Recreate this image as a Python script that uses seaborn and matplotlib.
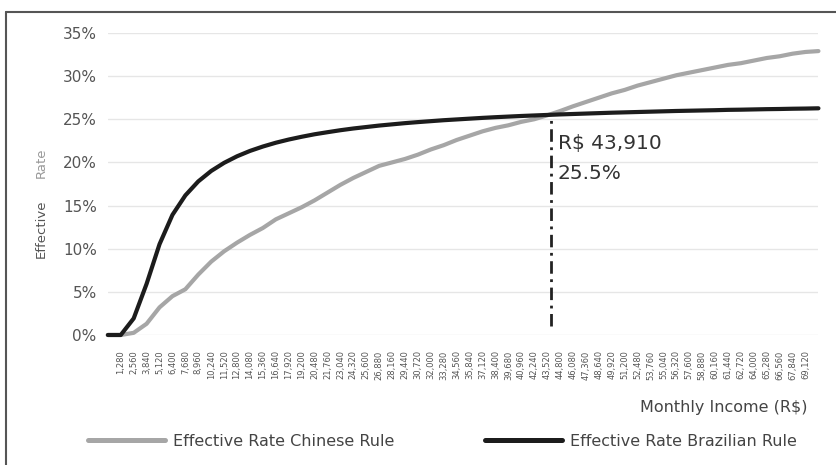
import pandas as pd
import matplotlib
matplotlib.use("Agg")
import matplotlib.pyplot as plt
import seaborn as sns
from matplotlib.lines import Line2D

# monthly income (R$) sampled every 1,280
income = [1280 * k for k in range(56)]

rate_chinese = [0.0, 0.0, 0.25, 1.3, 3.2, 4.5, 5.3, 7.0, 8.5, 9.7, 10.7, 11.6, 12.4, 13.4,
                14.1, 14.8, 15.6, 16.5, 17.4, 18.2, 18.9, 19.6, 20.0, 20.4, 20.9, 21.5,
                22.0, 22.6, 23.1, 23.6, 24.0, 24.3, 24.7, 25.0, 25.45, 25.95, 26.5, 27.0,
                27.5, 28.0, 28.4, 28.9, 29.3, 29.7, 30.1, 30.4, 30.7, 31.0, 31.3, 31.5,
                31.8, 32.1, 32.3, 32.6, 32.8, 32.9]

rate_brazilian = [0.0, 0.0, 1.92, 5.93, 10.52, 13.92, 16.18, 17.80, 19.01, 19.95, 20.71,
                  21.33, 21.84, 22.28, 22.65, 22.97, 23.26, 23.50, 23.73, 23.93, 24.10,
                  24.27, 24.41, 24.55, 24.67, 24.78, 24.89, 24.98, 25.07, 25.16, 25.24,
                  25.31, 25.38, 25.44, 25.50, 25.56, 25.61, 25.66, 25.71, 25.76, 25.80,
                  25.84, 25.88, 25.92, 25.96, 25.99, 26.02, 26.05, 26.09, 26.11, 26.14,
                  26.17, 26.19, 26.22, 26.24, 26.27]

tick_income = income[1:55]
y_ticks = [0, 5, 10, 15, 20, 25, 30, 35]

cross_income = 43910
cross_rate = 25.5
vline_bottom = 1.0

series_names = ["Effective Rate Chinese Rule", "Effective Rate Brazilian Rule"]
colors = {series_names[0]: "#a6a6a6", series_names[1]: "#1c1c1c"}

df = pd.DataFrame({"income": income,
                   series_names[0]: rate_chinese,
                   series_names[1]: rate_brazilian})
df = df.melt(id_vars="income", var_name="series", value_name="rate")

sns.set_theme(style="whitegrid")
plt.rcParams["font.family"] = ["DejaVu Sans"]

fig = plt.figure(figsize=(8.36, 4.65), dpi=100)
ax = fig.add_axes([0.129, 0.2796, 0.850, 0.6495])

sns.lineplot(data=df, x="income", y="rate", hue="series", hue_order=series_names,
             palette=colors, linewidth=3, legend=False, ax=ax,
             solid_capstyle="round", clip_on=False)

# crossing marker
ax.plot([cross_income, cross_income], [vline_bottom, cross_rate], color="#222222",
        linewidth=2, dashes=(4.5, 2, 1, 2))
ax.text(cross_income + 650, cross_rate - 3.3, f"R$ {cross_income:,}", fontsize=14.5,
        color="#333333", ha="left", va="center")
ax.text(cross_income + 650, cross_rate - 6.8, f"{cross_rate}%", fontsize=14.5,
        color="#333333", ha="left", va="center")

ax.set_xlim(0, 70400)
ax.set_ylim(0, 35)
ax.set_xticks(tick_income)
ax.set_xticklabels([f"{v:,}" for v in tick_income], rotation=90, fontsize=6,
                   color="#555555")
ax.set_yticks(y_ticks)
ax.set_yticklabels([f"{v}%" for v in y_ticks], fontsize=11, color="#555555")
ax.tick_params(axis="x", length=0, pad=11)
ax.tick_params(axis="y", length=0, pad=8)
ax.grid(axis="x", visible=False)
ax.grid(axis="y", color="#e6e6e6", linewidth=1)
for s in ax.spines.values():
    s.set_visible(False)
ax.set_xlabel("")
ax.set_ylabel("")

fig.text(808 / 836, 1 - 407 / 465, "Monthly Income (R$)", fontsize=11.5, color="#444444",
         ha="right", va="center")
fig.text(41 / 836, 1 - 229 / 465, "Effective", rotation=90, fontsize=9.5,
         color="#555555", ha="center", va="center")
fig.text(41 / 836, 1 - 163 / 465, "Rate", rotation=90, fontsize=9.5,
         color="#999999", ha="center", va="center")

handles = [Line2D([0], [0], color=colors[n], linewidth=3.6) for n in series_names]
leg = fig.legend(handles, series_names, loc="center", bbox_to_anchor=(0.529, 0.0516),
                 ncol=2, frameon=False, handlelength=4.8, handletextpad=0.5,
                 columnspacing=5.7, fontsize=11.5)
for t in leg.get_texts():
    t.set_color("#444444")

# frame edges (top and left) around the figure
top = 1 - 12 / 465
left = 6 / 836
fig.add_artist(Line2D([left, 1], [top, top], transform=fig.transFigure,
                      color="#555555", linewidth=1.5))
fig.add_artist(Line2D([left, left], [top, 0], transform=fig.transFigure,
                      color="#555555", linewidth=1.5))

fig.savefig("out.png", dpi=100)
